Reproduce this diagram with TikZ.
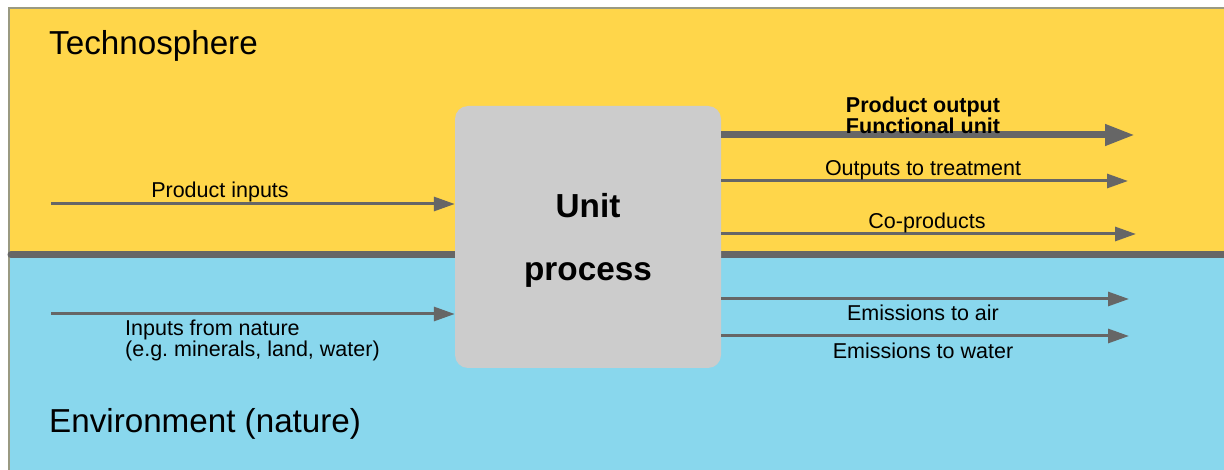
\documentclass[tikz,border=0pt]{standalone}
\usepackage{fontspec}
\setmainfont{Liberation Sans}
\usetikzlibrary{arrows.meta}
\frenchspacing
\definecolor{techyellow}{HTML}{FFD64A}
\definecolor{natblue}{HTML}{89D7ED}
\definecolor{boxgray}{HTML}{CCCCCC}
\definecolor{arrgray}{HTML}{666666}
\definecolor{framegray}{HTML}{9A9A82}
\tikzset{
  thinarrow/.style={draw=arrgray, line width=3pt, -{Triangle[length=21pt,width=14pt]}},
  thickarrow/.style={draw=arrgray, line width=7pt, -{Triangle[length=30pt,width=20pt]}},
  lbl/.style={font=\fontsize{21.5}{19.5}\selectfont, inner sep=0pt, anchor=base},
  blbl/.style={font=\fontsize{21.5}{18}\selectfont\bfseries, inner sep=0pt},
  title/.style={font=\fontsize{33.2}{38}\selectfont, inner sep=0pt, anchor=base west},
  unitbox/.style={fill=boxgray, draw=none, rounded corners=13pt, minimum width=266pt, minimum height=262pt, inner sep=0pt},
  utext/.style={font=\fontsize{33.3}{38}\selectfont\bfseries, inner sep=0pt, anchor=base}
}
\begin{document}
\begin{tikzpicture}[x=1pt,y=-1pt]
\useasboundingbox (0,0) rectangle (1224,470);
% regions
\fill[techyellow] (9,8) rectangle (1224,255);
\fill[natblue] (9,255) rectangle (1224,470);
\draw[framegray, line width=1.2pt] (9,470) -- (9,8) -- (1224,8);
\draw[arrgray, line width=7pt, line cap=round] (11,255) -- (1224,255);
% titles
\node[title] (tech) at (49,55) {Technosphere};
\node[title] (env) at (49,432) {Environment (nature)};
% unit process
\node[unitbox] (up) at (588,237) {};
\node[utext] (unit) at (588,218) {Unit};
\node[utext] (proc) at (588,281) {process};
% inputs
\coordinate (pin) at (51,204);
\coordinate (nin) at (51,314);
\draw[thinarrow] (pin) -- (up.west |- pin);
\draw[thinarrow] (nin) -- (up.west |- nin);
\node[lbl] (pinl) at (220,198) {Product inputs};
\node[font=\fontsize{21.5}{19.5}\selectfont, inner sep=0pt, anchor=north west, align=left] (ninl) at (125,320) {Inputs from nature\\(e.g. minerals, land, water)};
% outputs
\coordinate (po) at (1135,135);
\coordinate (ot) at (1128,181);
\coordinate (cp) at (1136,234);
\coordinate (ea) at (1129,299);
\coordinate (ew) at (1129,336);
\draw[thickarrow] (up.east |- po) -- (po);
\draw[thinarrow] (up.east |- ot) -- (ot);
\draw[thinarrow] (up.east |- cp) -- (cp);
\draw[thinarrow] (up.east |- ea) -- (ea);
\draw[thinarrow] (up.east |- ew) -- (ew);
\node[blbl, anchor=north, align=center] (pol) at (923,97) {Product output\\Functional unit};
\node[lbl] (otl) at (923,175.5) {Outputs to treatment};
\node[lbl] (cpl) at (927,228.7) {Co-products};
\node[lbl] (eal) at (923,320.5) {Emissions to air};
\node[lbl] (ewl) at (923,358.7) {Emissions to water};
\end{tikzpicture}
\end{document}
